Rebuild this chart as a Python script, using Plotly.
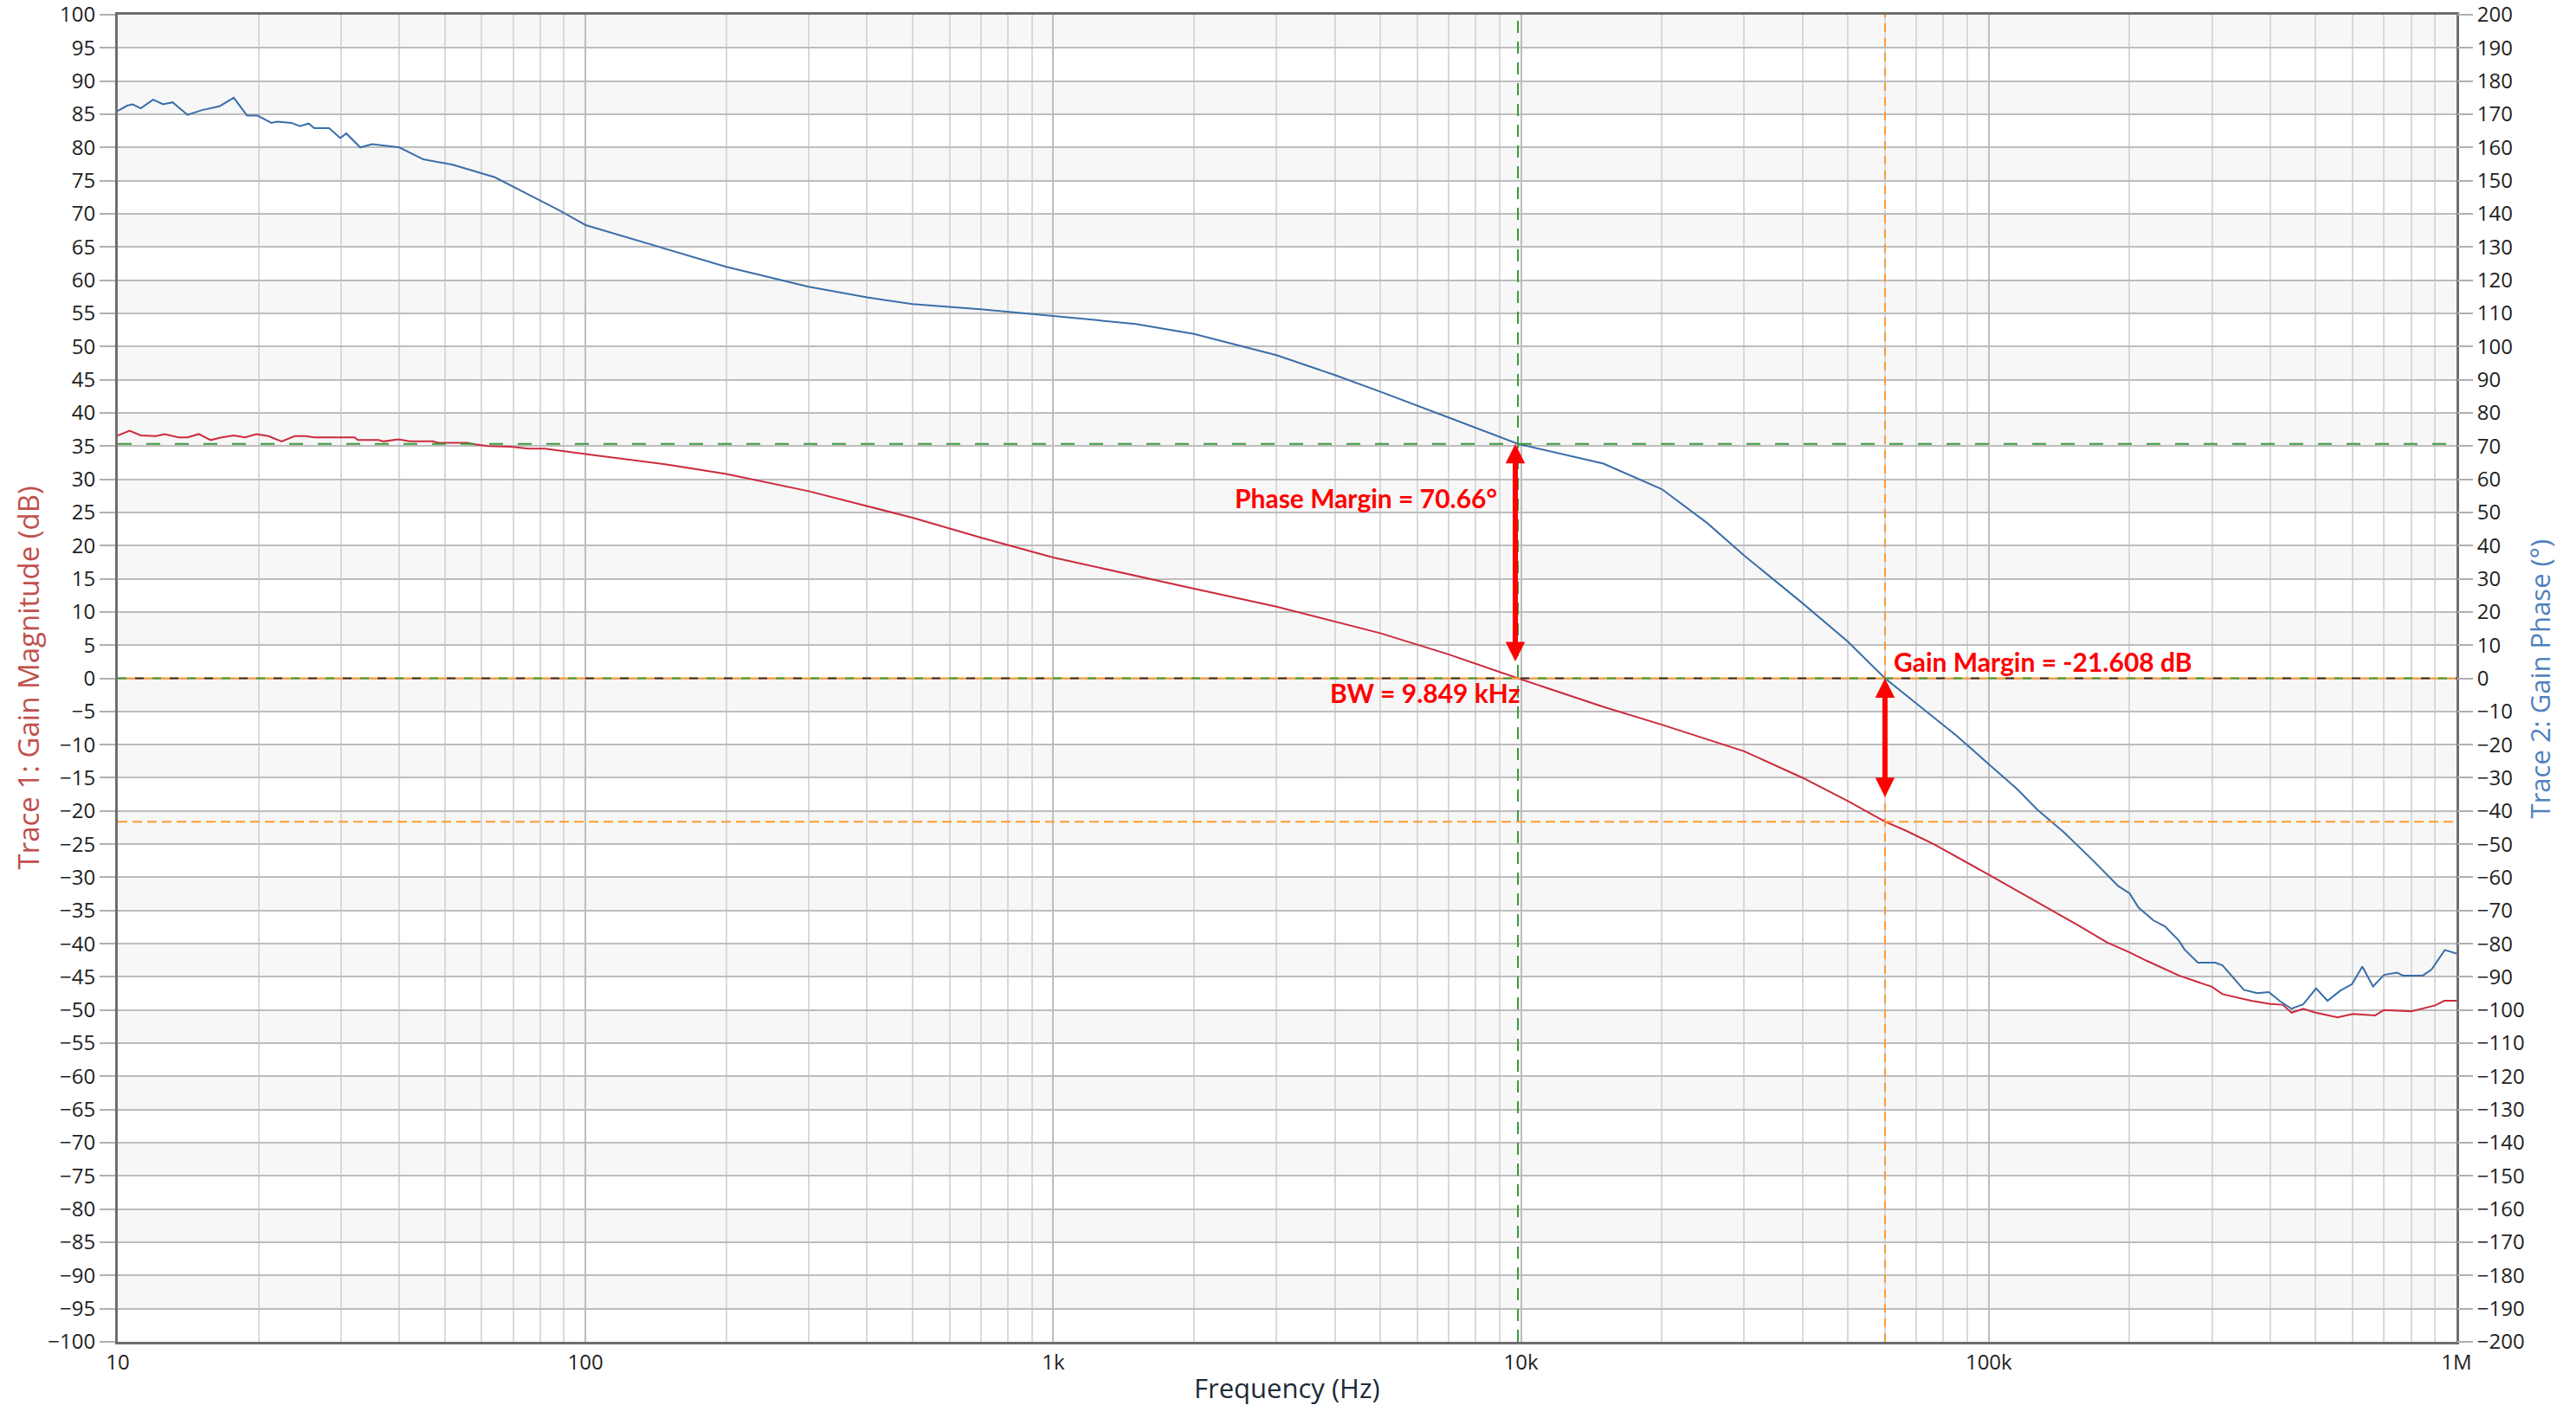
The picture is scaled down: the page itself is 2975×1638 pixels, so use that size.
import numpy as np
import plotly.graph_objects as go

# ---------------- data ----------------
freq_gain = [10, 10.6, 11.2, 12.06, 12.6, 13.5, 14.1, 14.9, 15.8, 16.7, 17.7, 18.7, 19.8, 21, 22.4, 23.9,
             25.2, 26.3, 32.1, 32.6, 36.1, 37, 39.8, 42.1, 47.1, 48.5, 55.9, 57.6, 61.8, 69.1, 75.5, 81.9,
             100, 150, 200, 300, 500, 700, 1000, 1500, 2000, 3000, 4000, 5000, 7000, 9849, 15000, 20000,
             30000, 40000, 50000, 60000, 66200, 76300, 100000, 135000, 155000, 179000, 200000, 218000,
             255000, 300000, 316000, 364000, 400000, 425000, 444000, 470000, 500000, 557000, 600000,
             670000, 700000, 800000, 900000, 942000, 1000000]
gain_db = [36.6, 37.3, 36.6, 36.5, 36.8, 36.3, 36.3, 36.8, 35.9, 36.3, 36.6, 36.3, 36.8, 36.5, 35.7, 36.5,
           36.5, 36.3, 36.3, 35.9, 35.9, 35.7, 36.0, 35.7, 35.7, 35.5, 35.5, 35.3, 35.0, 34.9, 34.6, 34.6,
           33.8, 32.2, 30.8, 28.2, 24.2, 21.2, 18.2, 15.4, 13.5, 10.8, 8.6, 6.8, 3.6, 0.0, -4.3, -7.0,
           -11.0, -15.0, -18.5, -21.6, -22.9, -25.0, -29.6, -34.8, -37.2, -39.8, -41.3, -42.6,
           -44.8, -46.5, -47.6, -48.6, -49.1, -49.2, -50.4, -49.8, -50.4, -51.1, -50.6,
           -50.8, -50.0, -50.2, -49.3, -48.6, -48.6]

freq_phase = [10, 10.47, 10.76, 11.2, 11.9, 12.5, 13.1, 14.1, 15.1, 16.5, 17.7, 18.9, 19.9, 21.3, 21.9,
              23.5, 24.5, 25.6, 26.3, 28.3, 29.9, 30.8, 33, 35, 40, 45, 52, 64, 75, 88, 100, 150, 200,
              300, 400, 500, 700, 1000, 1500, 2000, 3000, 4000, 5000, 7000, 9849, 15000, 20000, 25000,
              30000, 40000, 50000, 60000, 85500, 100000, 115000, 127000, 145000, 167000, 189000, 200000,
              209000, 225000, 238000, 255000, 262000, 280000, 305000, 316000, 351000, 375000, 397000,
              420000, 444000, 470000, 501000, 530000, 565000, 598000, 629000, 663000, 700000, 746000,
              768000, 847000, 884000, 944000, 1000000]
phase_deg = [171.0, 172.6, 173.0, 171.8, 174.4, 173.0, 173.6, 169.8, 171.2, 172.4, 175.0, 169.6, 169.6,
             167.4, 167.8, 167.4, 166.4, 167.2, 165.8, 165.8, 162.8, 164.2, 160.0, 161.0, 160.0, 156.4,
             154.8, 151.0, 146.0, 141.0, 136.6, 129.2, 124.0, 118.0, 114.8, 112.8, 111.2, 109.2, 106.8,
             103.8, 97.4, 91.4, 86.4, 78.6, 70.66, 64.7, 57.0, 46.8, 37.0, 22.6, 11.0, 0.0, -17.4,
             -25.9, -33.4, -39.6, -46.5, -54.9, -62.6, -64.8, -69.1, -73.0, -74.8, -79.1, -81.7, -85.7,
             -85.7, -86.5, -93.9, -94.9, -94.6, -97.4, -99.6, -98.3, -93.5, -97.2, -94.1, -92.2, -86.9,
             -92.9, -89.4, -88.7, -89.6, -89.6, -87.8, -81.9, -83.0]

x_tickvals = [10, 100, 1000, 10000, 100000, 1000000]
x_ticktext = ["10", "100", "1k", "10k", "100k", "1M"]
y1_ticks = list(range(-100, 101, 5))
y2_ticks = list(range(-200, 201, 10))

bw_hz = 9849.0
phase_margin_deg = 70.66
gm_hz = 60000.0
gain_margin_db = -21.608

# ---------------- styling ----------------
RED = "#cc2a3e"
BLUE = "#3a6ea8"
GREEN = "#3a9a3a"
ORANGE = "#ff9933"
ARROW = "#ff0000"
TICKFONT = dict(family="Open Sans", size=24, color="#222222")

fig = go.Figure()

# vertical marker lines (through library axes)
fig.add_trace(go.Scatter(x=[bw_hz, bw_hz], y=[-100, 100], mode="lines",
                         line=dict(color=GREEN, width=2, dash="14px,10px"), hoverinfo="skip", showlegend=False))
fig.add_trace(go.Scatter(x=[gm_hz, gm_hz], y=[-100, 100], mode="lines",
                         line=dict(color=ORANGE, width=2, dash="10px,7px"), hoverinfo="skip", showlegend=False))

fig.add_trace(go.Scatter(x=freq_gain, y=gain_db, mode="lines", line=dict(color=RED, width=2),
                         name="Trace 1", showlegend=False, yaxis="y"))
fig.add_trace(go.Scatter(x=freq_phase, y=phase_deg, mode="lines", line=dict(color=BLUE, width=2),
                         name="Trace 2", showlegend=False, yaxis="y2"))

shapes = []
# alternating bands
for i, v in enumerate(y1_ticks[::-1][:-1]):
    if i % 2 == 0:
        shapes.append(dict(type="rect", xref="paper", x0=0, x1=1, yref="y", y0=v - 5, y1=v,
                           fillcolor="#f7f7f7", line=dict(width=0), layer="below"))
# horizontal marker lines
shapes.append(dict(type="line", xref="paper", x0=0, x1=1, yref="y2", y0=phase_margin_deg, y1=phase_margin_deg,
                   line=dict(color=GREEN, width=2, dash="16px,17px")))
shapes.append(dict(type="line", xref="paper", x0=0, x1=1, yref="y", y0=gain_margin_db, y1=gain_margin_db,
                   line=dict(color=ORANGE, width=2, dash="11px,6px")))
shapes.append(dict(type="line", xref="paper", x0=0, x1=1, yref="y", y0=0, y1=0,
                   line=dict(color=ORANGE, width=2)))
shapes.append(dict(type="line", xref="paper", x0=0, x1=1, yref="y", y0=0, y1=0,
                   line=dict(color=GREEN, width=2, dash="10px,30px")))
shapes.append(dict(type="line", xref="paper", x0=0, x1=1, yref="y", y0=0, y1=0,
                   line=dict(color="#333333", width=2, dash="0px,20px,10px,10px")))

ann_font = dict(family="Lato", size=30, color=ARROW)
annotations = [
    dict(x=np.log10(bw_hz), y=phase_margin_deg / 2, xref="x", yref="y", ax=np.log10(bw_hz), ay=0,
         axref="x", ayref="y", text="", showarrow=True, arrowhead=2, arrowside="end+start",
         arrowsize=0.75, arrowwidth=6, arrowcolor=ARROW, startstandoff=18, standoff=0, xshift=-3),
    dict(x=np.log10(gm_hz), y=0, xref="x", yref="y", ax=np.log10(gm_hz), ay=gain_margin_db,
         axref="x", ayref="y", text="", showarrow=True, arrowhead=2, arrowside="end+start",
         arrowsize=0.75, arrowwidth=6, arrowcolor=ARROW, startstandoff=27, standoff=0),
    dict(x=np.log10(bw_hz), y=27.2, xref="x", yref="y", text=f"<b>Phase Margin = {phase_margin_deg:.2f}°</b>",
         showarrow=False, xanchor="right", yanchor="middle", xshift=-22, font=ann_font),
    dict(x=np.log10(bw_hz), y=-2.2, xref="x", yref="y", text=f"<b>BW = {bw_hz/1000:.3f} kHz</b>",
         showarrow=False, xanchor="right", yanchor="middle", xshift=4, font=ann_font),
    dict(x=np.log10(gm_hz), y=2.6, xref="x", yref="y", text=f"<b>Gain Margin = {gain_margin_db:.3f} dB</b>",
         showarrow=False, xanchor="left", yanchor="middle", xshift=8, font=ann_font),
    # axis titles
    dict(x=-0.0385, y=0.5, xref="paper", yref="paper", text="Trace 1: Gain Magnitude (dB)", textangle=-90,
         showarrow=False, xanchor="center", yanchor="middle",
         font=dict(family="Open Sans", size=33, color="#c0504d")),
    dict(x=1.0355, y=0.5, xref="paper", yref="paper", text="Trace 2: Gain Phase (°)", textangle=-90,
         showarrow=False, xanchor="center", yanchor="middle",
         font=dict(family="Open Sans", size=31, color="#4f81bd")),
    dict(x=0.5, y=-0.0346, xref="paper", yref="paper", text="Frequency (Hz)",
         showarrow=False, xanchor="center", yanchor="middle",
         font=dict(family="Open Sans", size=31, color="#1e2a38")),
]

minor_vals = [m * d for d in x_tickvals[:-1] for m in range(2, 10)]

fig.update_layout(
    width=2975, height=1638, autosize=False,
    margin=dict(l=136, r=138, t=17, b=88, autoexpand=False),
    paper_bgcolor="white", plot_bgcolor="white",
    shapes=shapes, annotations=annotations, showlegend=False,
    xaxis=dict(type="log", range=[1, 6], tickmode="array", tickvals=x_tickvals, ticktext=x_ticktext,
               ticks="", showgrid=True, gridcolor="#bdbdbd", gridwidth=2, tickfont=TICKFONT,
               showline=True, linecolor="#6e6e6e", linewidth=3, mirror=True, zeroline=False,
               automargin=False, ticklabeloverflow="allow",
               minor=dict(tickmode="array", tickvals=minor_vals, showgrid=True, gridcolor="#d9d9d9",
                          gridwidth=2, ticks="")),
    yaxis=dict(range=[-100, 100], tickmode="array", tickvals=y1_ticks, ticks="outside", ticklen=18,
               tickwidth=2, tickcolor="#b0b0b0", showgrid=True, gridcolor="#bdbdbd", gridwidth=2,
               tickfont=TICKFONT, showline=True, linecolor="#6e6e6e", linewidth=3, mirror=True,
               zeroline=False, automargin=False, ticklabeloverflow="allow"),
    yaxis2=dict(range=[-200, 200], tickmode="array", tickvals=y2_ticks, overlaying="y", side="right",
                ticks="outside", ticklen=18, tickwidth=2, tickcolor="#b0b0b0", showgrid=False,
                tickfont=TICKFONT, zeroline=False, showline=False, automargin=False,
                ticklabeloverflow="allow"),
)

# remove the default 8px page margin so the figure fills the window exactly
fig.write_html("out.html", config={"displayModeBar": False},
               post_script="document.body.style.margin='0';document.body.style.overflow='hidden';")
